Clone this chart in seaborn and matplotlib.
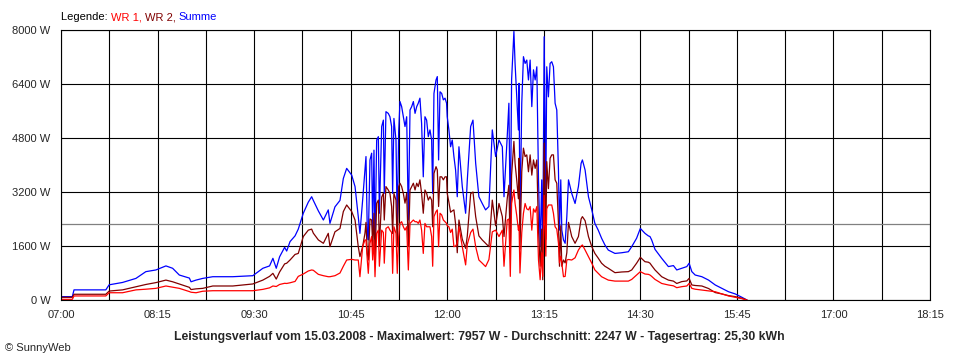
import pandas as pd
import matplotlib
matplotlib.use("Agg")
import matplotlib.pyplot as plt
from matplotlib.ticker import FuncFormatter
from matplotlib.offsetbox import TextArea, HPacker, AnchoredOffsetbox
import seaborn as sns

# minutes after 07:00
t_min = [
    0, 8.8, 10.1, 34.8, 37.4, 47.8, 58.2, 65.9, 73.7, 81.5, 86.7, 91.9, 99.7, 101, 104.9,
    110.1, 117.9, 133.4, 149.0, 156.8, 162.0, 164.6, 167.2, 169.8, 173.7,
    175.3, 177.9, 181.8, 184.3, 188.2, 192.1, 194.7, 196.0, 199.9, 203.8, 207.6, 208.9,
    212.8, 216.7, 219.3, 221.9, 225.8,
    228.4, 230.9, 232.2, 234.3, 236.1, 236.9, 237.9, 238.7, 240.0, 241.3, 242.1, 243.1,
    243.9, 245.2, 246.5, 247.3, 249.1, 250.4, 251.1, 252.4, 254.2, 255.5, 256.8, 257.6,
    258.6, 260.2, 261.2, 262.3, 263.3, 264.6, 265.9, 267.2, 268.5, 269.8, 271.1, 272.4,
    273.7, 275.0, 276.3, 277.5, 278.8, 280.1, 281.4, 282.7, 284.0, 285.3, 286.6, 287.9,
    288.7, 289.7, 291.3, 292.3, 293.3, 294.4, 295.7, 297.0, 298.3, 299.5,
    300.0, 301.3, 302.6, 303.9, 305.2, 306.5, 307.8, 309.1, 311.7, 314.3, 315.6, 318.2,
    320.0, 322.1, 324.6, 327.2, 329.8, 332.4, 335.0, 337.6, 340.2, 342.8, 344.1, 346.6,
    347.9, 349.0, 350.0, 351.8,
    352.7, 354.0, 355.3, 355.8, 356.5, 357.9, 359.2, 360.5, 361.8, 363.1, 364.4, 365.7,
    367.0, 368.3, 369.6, 370.9, 372.2, 373.4, 374.2, 375.3, 376.6, 377.3, 378.6, 379.9,
    381.2, 382.5, 383.8, 385.1, 386.4, 387.2, 388.2, 389.0, 390.3, 391.6, 392.9, 394.2,
    396.7, 399.3, 401.9, 404.0, 405.0, 407.1, 409.7, 412.3,
    414.7, 417.3, 419.9, 422.5, 425.1, 430.3, 435.5, 440.7, 443.3, 447.1, 450.0, 453.6,
    456.2, 457.5, 458.8, 461.4, 466.6, 471.8, 475.7, 478.3, 482.2, 486.1, 487.9, 490.0,
    492.6, 497.8, 503.0, 508.2, 513.3, 518.5, 523.7, 528.9, 532.8,
]

wr1 = [
    20, 20, 120, 120, 215, 215, 300, 320, 345, 415, 380, 345, 250, 230, 215,
    260, 275, 275, 275, 315, 360, 415, 400, 460, 495,
    490, 510, 550, 700, 770, 860, 890, 880, 760, 720, 690, 690,
    720, 800, 1000, 1185, 1205,
    1185, 1185, 690, 1580, 1780, 1780, 1185, 790, 1680, 1880, 1185, 1780,
    690, 1975, 2070, 1000, 2070, 2000, 1090, 2120, 2170, 2070, 2000, 790,
    2170, 1975, 790, 1880, 2270, 2320, 2170, 2070, 2170, 890, 2270, 2320,
    2370, 2320, 2320, 2270, 2370, 2070, 1380, 2270, 2170, 2170, 2170, 1880,
    1000, 2470, 2620, 2670, 1580, 2570, 2520, 2370, 2320, 2270,
    2200, 2170, 2000, 2100, 1580, 1600, 1680, 2170, 1580, 1040, 1650, 2000,
    2100, 1580, 1185, 1090, 990, 1200, 2020, 2070, 1880, 2070, 1000, 2370,
    2400, 700, 2860, 3260,
    2860, 2500, 2070, 2200, 800, 2000, 2570, 2860, 2700, 2670, 2770, 2070,
    2700, 2600, 2770, 1185, 600, 1400, 700, 3100, 1300, 2700, 2815, 2815,
    2815, 2570, 2170, 2100, 1680, 1100, 1300, 1090, 690, 700, 1185, 1200,
    1185, 1250, 1480, 1600, 1630, 1480, 1285, 1090,
    890, 790, 690, 640, 590, 560, 560, 560, 610, 740, 840, 770,
    760, 740, 700, 610, 490, 445, 420, 365, 395, 415, 490, 345,
    320, 295, 270, 245, 180, 120, 80, 40, 0,
]

wr2 = [
    80, 80, 170, 170, 265, 300, 390, 460, 515, 590, 540, 475, 375, 310, 330,
    345, 415, 415, 475, 590, 700, 790, 620, 830, 1070,
    1090, 1185, 1350, 1380, 1880, 2070, 2100, 1980, 1780, 1680, 1975, 1580,
    2020, 2120, 2620, 2815, 2620,
    2370, 1580, 1285, 1580, 1975, 2300, 1380, 1185, 2400, 2370, 1580, 2570,
    1185, 2865, 2960, 1600, 3050, 3160, 2370, 3360, 3260, 3160, 2770, 1970,
    3160, 2960, 1580, 3360, 3460, 3360, 3160, 2870, 3160, 1580, 3260, 3360,
    3460, 3260, 3460, 3360, 3560, 3160, 2570, 3260, 3160, 2960, 3060, 2960,
    2170, 3750, 3950, 3850, 2770, 3650, 3650, 3560, 3650, 3650,
    3160, 2900, 2600, 2640, 2670, 2250, 1400, 2370, 1800, 1530, 1900, 3150,
    3200, 2470, 1900, 1780, 1680, 1580, 2960, 2200, 2860, 2470, 1880, 3000,
    3400, 1400, 3700, 4700,
    4050, 3550, 3000, 4200, 1500, 3800, 4500, 4250, 4300, 3800, 4300, 3700,
    4150, 3900, 4150, 2070, 1000, 2100, 600, 4650, 1800, 4100, 3300, 4200,
    4300, 4300, 3560, 3460, 2270, 1000, 2200, 1000, 1185, 1100, 1400, 2300,
    1880, 1680, 1880, 2400, 2470, 2350, 1880, 1580,
    1380, 1240, 1090, 1000, 940, 810, 830, 840, 890, 1090, 1265, 1135,
    1120, 1090, 1020, 890, 690, 590, 560, 490, 545, 565, 640, 445,
    430, 415, 340, 220, 180, 130, 100, 50, 0,
]

summe = [
    100, 100, 300, 300, 450, 520, 640, 840, 890, 1010, 940, 740, 650, 540, 590,
    640, 690, 690, 720, 940, 1010, 1235, 940, 1280, 1560,
    1450, 1730, 1900, 2100, 2570, 2900, 3060, 2950, 2640, 2370, 2670, 2270,
    2760, 2950, 3600, 3900, 3700,
    3360, 2470, 1975, 2960, 3850, 4250, 2070, 1780, 4150, 4350, 2070, 4440,
    1580, 4740, 4840, 2570, 5140, 5330, 3160, 5580, 5530, 5430, 5140, 3160,
    5380, 4740, 2170, 5000, 5880, 5730, 5430, 5140, 5430, 2370, 5630, 5730,
    5880, 5530, 5730, 5830, 5980, 5230, 3650, 5430, 5330, 4840, 5040, 4740,
    3160, 6120, 6520, 6620, 4150, 6170, 6120, 5930, 5980, 5830,
    5430, 5040, 4540, 4740, 4250, 3850, 3060, 4540, 3360, 2570, 3560, 5140,
    5330, 4050, 3060, 2860, 2670, 2770, 5040, 4250, 4740, 4540, 3060, 4840,
    5830, 2100, 6520, 7957,
    7010, 6020, 5040, 6420, 2300, 5830, 7210, 7010, 7110, 6520, 7110, 5730,
    6820, 6520, 6910, 3560, 1580, 3560, 1280, 7800, 3060, 6910, 6020, 7010,
    7060, 6910, 5830, 5630, 3850, 2070, 3560, 2070, 1780, 1680, 2470, 3560,
    3160, 2860, 3360, 4050, 4150, 3850, 3060, 2670,
    2270, 2070, 1830, 1630, 1480, 1380, 1400, 1430, 1580, 1830, 2120, 1975,
    1900, 1880, 1780, 1500, 1235, 990, 1020, 890, 940, 990, 1090, 840,
    740, 690, 590, 445, 345, 245, 180, 80, 0,
]

durchschnitt = 2247
x_ticks = list(range(0, 676, 75))
y_ticks = [0, 1600, 3200, 4800, 6400, 8000]

df = pd.concat([
    pd.DataFrame({"t": t_min, "watt": summe, "serie": "Summe"}),
    pd.DataFrame({"t": t_min, "watt": wr2, "serie": "WR 2"}),
    pd.DataFrame({"t": t_min, "watt": wr1, "serie": "WR 1"}),
])

sns.set_style("white")
plt.rcParams["font.family"] = ["Liberation Sans", "DejaVu Sans"]

fig = plt.figure(figsize=(9.6, 3.6), dpi=100)
ax = fig.add_axes([61 / 960, 60 / 360, 869 / 960, 270 / 360])

sns.lineplot(data=df, x="t", y="watt", hue="serie", sort=False, estimator=None,
             palette={"Summe": "#0000ff", "WR 2": "#800000", "WR 1": "#ff0000"},
             linewidth=0.9, legend=False, ax=ax)
ax.axhline(durchschnitt, color="#808080", lw=0.9, zorder=1)

ax.set_xlim(0, 675)
ax.set_ylim(0, 8000)
ax.set_xticks(x_ticks)
ax.set_xticks([x + 37.5 for x in x_ticks[:-1]], minor=True)
ax.set_yticks(y_ticks)
ax.xaxis.set_major_formatter(FuncFormatter(lambda v, p: f"{7 + int(v) // 60:02d}:{int(v) % 60:02d}"))
ax.yaxis.set_major_formatter(FuncFormatter(lambda v, p: f"{int(v)} W"))
ax.grid(True, which="both", color="black", lw=0.8)
ax.set_axisbelow(True)
ax.tick_params(axis="x", which="both", direction="out", length=4.5, width=0.8,
               color="black", pad=3, labelsize=8)
ax.tick_params(axis="y", direction="out", length=5.5, width=0.8, color="black",
               pad=2, labelsize=8)
ax.set_xlabel("")
ax.set_ylabel("")
for s in ax.spines.values():
    s.set_color("black")
    s.set_linewidth(0.8)

# legend line at the top
parts = [("Legende: ", "black"), ("WR 1, ", "#ff0000"), ("WR 2, ", "#800000"), ("Summe", "#0000ff")]
box = HPacker(children=[TextArea(s, textprops=dict(color=c, fontsize=8)) for s, c in parts],
              align="baseline", pad=0, sep=0)
anchored = AnchoredOffsetbox(loc="center left", child=box, pad=0, frameon=False,
                             bbox_to_anchor=(61 / 960, 343 / 360),
                             bbox_transform=fig.transFigure, borderpad=0)
fig.add_artist(anchored)

fig.text(479 / 960, 23 / 360,
         "Leistungsverlauf vom 15.03.2008 - Maximalwert: 7957 W - Durchschnitt: 2247 W - Tagesertrag: 25,30 kWh",
         ha="center", va="center", fontsize=8.8, fontweight="bold")
fig.text(5 / 960, 12 / 360, "\u00a9 SunnyWeb", ha="left", va="center", fontsize=8)

fig.savefig("out.png", dpi=100)
